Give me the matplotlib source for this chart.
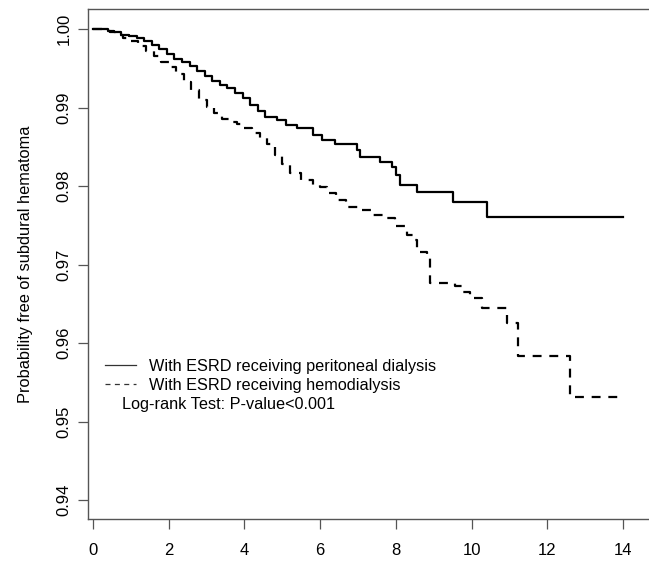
import matplotlib
matplotlib.use("Agg")
import matplotlib.pyplot as plt

plt.rcParams["font.family"] = ["Liberation Sans", "DejaVu Sans"]

# Kaplan-Meier step points (time in years, survival after the step)
pd_times = [0, 0.40, 0.55, 0.75, 0.95, 1.15, 1.35, 1.55, 1.75, 1.95, 2.15,
            2.35, 2.55, 2.75, 2.95, 3.15, 3.35, 3.55, 3.75, 3.95, 4.15, 4.35,
            4.55, 4.85, 5.10, 5.40, 5.81, 6.05, 6.39, 6.97, 7.05, 7.58, 7.90,
            8.00, 8.10, 8.56, 9.51, 10.41, 14.0]
pd_surv = [1.0, 0.9998, 0.9996, 0.9993, 0.9991, 0.9988, 0.9985, 0.9980,
           0.9974, 0.9968, 0.9962, 0.9958, 0.9953, 0.9946, 0.9940, 0.9934,
           0.9929, 0.9925, 0.9918, 0.9912, 0.9903, 0.9896, 0.9888, 0.9884,
           0.9878, 0.9874, 0.9865, 0.9859, 0.9854, 0.9846, 0.9837, 0.9831,
           0.9824, 0.9814, 0.9801, 0.9793, 0.9780, 0.9761, 0.9761]

hd_times = [0, 0.30, 0.45, 0.60, 0.80, 1.00, 1.20, 1.40, 1.60, 1.80, 2.00,
            2.20, 2.40, 2.60, 2.80, 3.00, 3.20, 3.40, 3.60, 3.80, 4.00, 4.20,
            4.40, 4.60, 4.80, 5.00, 5.20, 5.50, 5.80, 6.00, 6.18, 6.42, 6.68,
            7.05, 7.37, 7.70, 7.98, 8.30, 8.45, 8.55, 8.82, 8.90, 9.55, 9.75,
            9.95, 10.28, 10.93, 11.23, 12.60, 14.0]
hd_surv = [1.0, 0.9998, 0.9996, 0.9993, 0.9989, 0.9985, 0.9979, 0.9972,
           0.9965, 0.9958, 0.9951, 0.9943, 0.9933, 0.9922, 0.9910, 0.9901,
           0.9893, 0.9886, 0.9882, 0.9879, 0.9874, 0.9867, 0.9861, 0.9854,
           0.9840, 0.9828, 0.9817, 0.9808, 0.9801, 0.9799, 0.9791, 0.9782,
           0.9773, 0.9769, 0.9763, 0.9759, 0.9749, 0.9738, 0.9731, 0.9716,
           0.9708, 0.9676, 0.9672, 0.9665, 0.9657, 0.9645, 0.9625, 0.9583,
           0.9531, 0.9531]

x_ticks = [0, 2, 4, 6, 8, 10, 12, 14]
y_ticks = [0.94, 0.95, 0.96, 0.97, 0.98, 0.99, 1.00]
labels = ["With ESRD receiving peritoneal dialysis",
          "With ESRD receiving hemodialysis"]

fig = plt.figure(figsize=(6.49, 5.61), dpi=100)
ax = fig.add_axes([88 / 649, 42 / 561, 564 / 649, 510 / 561])

ax.step(pd_times, pd_surv, where="post", color="black", lw=1.6,
        label=labels[0])
ax.step(hd_times, hd_surv, where="post", color="black", lw=1.6,
        linestyle=(0, (4, 3.5)), label=labels[1])

ax.set_xlim(-0.132, 14.766)
ax.set_ylim(0.93758, 1.00255)
ax.set_xticks(x_ticks)
ax.set_xticklabels([str(v) for v in x_ticks])
ax.set_yticks(y_ticks)
ax.set_yticklabels(["%.2f" % v for v in y_ticks], rotation=90, va="center")

for s in ax.spines.values():
    s.set_color("#555555")
    s.set_linewidth(1.0)
ax.tick_params(direction="out", length=7, width=0.9, color="#555555",
               labelsize=12, pad=5)
ax.tick_params(axis="x", pad=10)

ax.set_ylabel("Probability free of subdural hematoma", fontsize=11.8,
              labelpad=17)

leg = ax.legend(loc="upper left", bbox_to_anchor=(0.005, 0.343), frameon=False,
                fontsize=11.7, handlelength=1.9, handletextpad=0.8,
                labelspacing=0.25)
for line in leg.get_lines():
    line.set_linewidth(0.9)
    line.set_color("#333333")

ax.text(122, 561 - 405, "Log-rank Test: P-value<0.001", transform=None,
        fontsize=11.7, va="center", ha="left")

fig.savefig("out.png", dpi=100)
